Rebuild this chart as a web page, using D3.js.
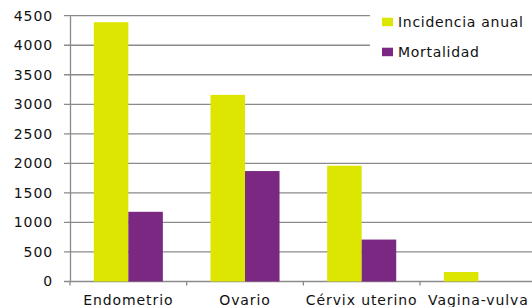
<!DOCTYPE html>
<html><head><meta charset="utf-8">
<script src="https://cdn.jsdelivr.net/npm/d3@7"></script>
<style>
html,body{margin:0;padding:0;background:#fff;}
svg text{font-family:"DejaVu Sans",sans-serif;fill:#111;}
</style></head>
<body><svg id="c" width="532" height="307"></svg>
<script>
const categories = ["Endometrio", "Ovario", "Cérvix uterino", "Vagina-vulva"];
const seriesNames = ["Incidencia anual", "Mortalidad"];
const incidencia = [4390, 3160, 1960, 160];
const mortalidad = [1180, 1870, 710, 0];
const yTicks = [0, 500, 1000, 1500, 2000, 2500, 3000, 3500, 4000, 4500];
const colors = ["#dde600", "#7b2883"];

const svg = d3.select("#c");
const mLeft = 70, mRight = 536.7, mTop = 15.7, mBottom = 281.5;

const x = d3.scaleBand().domain(categories).range([mLeft, mRight]).paddingInner(0).paddingOuter(0);
const x1 = d3.scaleBand().domain(seriesNames).range([0, x.bandwidth()]).paddingInner(0).paddingOuter(0.69);
const y = d3.scaleLinear().domain([0, 4500]).range([mBottom, mTop]);

// gridlines
svg.append("g").selectAll("line").data(yTicks).join("line")
  .attr("x1", 64).attr("x2", 532)
  .attr("y1", d => y(d)).attr("y2", d => y(d))
  .attr("stroke", "#8a8a8a").attr("stroke-width", 1.3);

// y axis
const ya = svg.append("g").attr("transform", `translate(${mLeft},0)`)
  .call(d3.axisLeft(y).tickValues(yTicks).tickSize(0).tickPadding(17).tickFormat(d3.format("d")));
ya.select(".domain").attr("stroke", "#8a8a8a").attr("stroke-width", 1.3);
ya.selectAll("text").attr("font-size", 14).attr("letter-spacing", 0.9)
  .attr("font-family", "DejaVu Sans").attr("fill", "#111");

// bars
const data = categories.map((c, i) => ({c, vals: [incidencia[i], mortalidad[i]]}));
const g = svg.append("g").selectAll("g").data(data).join("g")
  .attr("transform", d => `translate(${x(d.c)},0)`);
g.selectAll("rect").data(d => d.vals.map((v, j) => ({k: seriesNames[j], v, j}))).join("rect")
  .attr("x", d => x1(d.k)).attr("width", x1.bandwidth())
  .attr("y", d => y(d.v)).attr("height", d => mBottom - y(d.v))
  .attr("fill", d => colors[d.j]);

// x axis
const xa = svg.append("g").attr("transform", `translate(0,${mBottom})`)
  .call(d3.axisBottom(x).tickSize(0).tickPadding(14));
xa.select(".domain").remove();
xa.selectAll("text").attr("font-size", 14).attr("letter-spacing", 0.9)
  .attr("font-family", "DejaVu Sans").attr("fill", "#111");
// category boundary ticks
svg.append("g").selectAll("line").data(categories.slice(1)).join("line")
  .attr("x1", d => x(d)).attr("x2", d => x(d))
  .attr("y1", mBottom).attr("y2", mBottom + 4)
  .attr("stroke", "#8a8a8a").attr("stroke-width", 1.3);
svg.append("line").attr("x1", mLeft).attr("x2", mLeft).attr("y1", mBottom).attr("y2", mBottom + 4)
  .attr("stroke", "#8a8a8a").attr("stroke-width", 1.3);

// legend
const lg = svg.append("g");
lg.append("rect").attr("x", 370).attr("y", 0).attr("width", 162).attr("height", 68).attr("fill", "#fff");
const li = lg.selectAll("g.li").data(seriesNames).join("g").attr("class", "li")
  .attr("transform", (d, i) => `translate(382,${17.7 + i * 30})`);
li.append("rect").attr("width", 11).attr("height", 8.5).attr("fill", (d, i) => colors[i]);
li.append("text").attr("x", 16).attr("y", 9.5).text(d => d)
  .attr("font-size", 14).attr("letter-spacing", 0.7);
</script></body></html>
